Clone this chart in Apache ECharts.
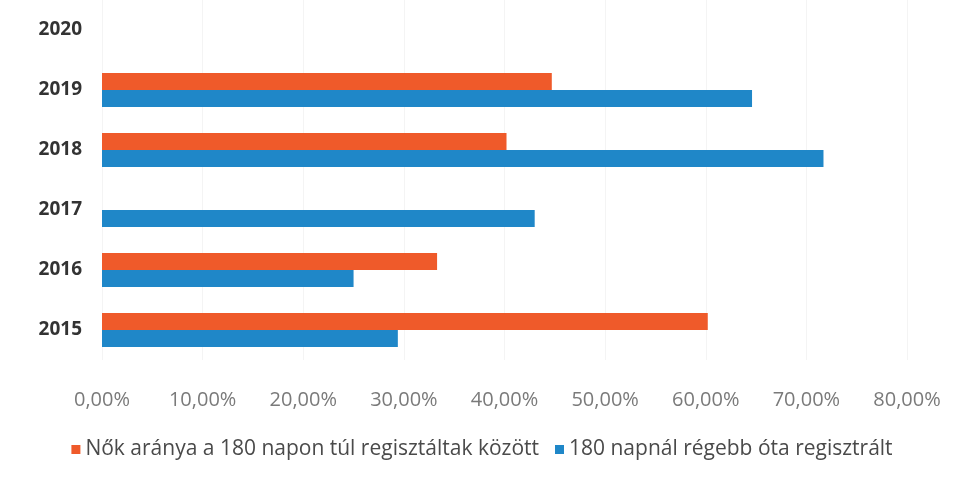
<!DOCTYPE html>
<html>
<head>
<meta charset="utf-8">
<script src="https://cdn.jsdelivr.net/npm/echarts@6/dist/echarts.min.js"></script>
<style>html,body{margin:0;padding:0;background:#fff;}#c{width:964px;height:479px;}</style>
</head>
<body>
<div id="c"></div>
<script>
const categories = ['2015', '2016', '2017', '2018', '2019', '2020'];
const seriesNames = ['Nők aránya a 180 napon túl regisztáltak között', '180 napnál régebb óta regisztrált'];
const womenShare = [60.2, 33.3, null, 40.2, 44.7, null];
const registered180 = [29.4, 25.0, 43.0, 71.7, 64.6, null];
const xTicks = [0, 10, 20, 30, 40, 50, 60, 70, 80];

const chart = echarts.init(document.getElementById('c'), null, {renderer: 'canvas'});
const font = '"Open Sans", "Liberation Sans", sans-serif';
chart.setOption({
  animation: false,
  backgroundColor: '#ffffff',
  grid: {left: 102, right: 57, top: 0, bottom: 119},
  legend: {
    data: seriesNames,
    bottom: 14,
    left: 'center',
    itemWidth: 9, itemHeight: 9, itemGap: 16,
    icon: 'rect',
    textStyle: {fontFamily: font, fontSize: 21, color: '#4a4a4a'}
  },
  xAxis: {
    type: 'value',
    min: xTicks[0], max: xTicks[xTicks.length - 1], interval: 10,
    axisLine: {show: false}, axisTick: {show: false},
    splitLine: {show: true, lineStyle: {color: '#f4f4f4', width: 1}},
    axisLabel: {
      margin: 30,
      fontFamily: font, fontSize: 20, color: '#7a7a7a',
      formatter: v => v.toFixed(2).replace('.', ',') + '%'
    }
  },
  yAxis: {
    type: 'category',
    data: categories,
    axisLine: {show: false}, axisTick: {show: false},
    axisLabel: {margin: 20, fontFamily: font, fontSize: 19, fontWeight: 'bold', color: '#333333'}
  },
  series: [
    {
      name: seriesNames[0], type: 'bar', data: womenShare,
      barWidth: 17, barGap: '0%',
      itemStyle: {color: '#ef5a2a'}
    },
    {
      name: seriesNames[1], type: 'bar', data: registered180,
      barWidth: 17, barGap: '0%',
      itemStyle: {color: '#1f87c8'}
    }
  ]
});
</script>
</body>
</html>
